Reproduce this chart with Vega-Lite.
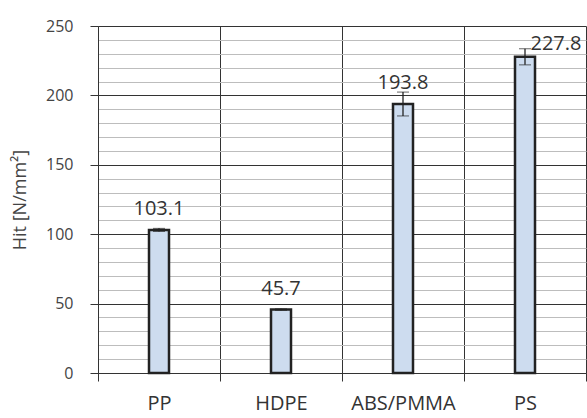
{
  "$schema": "https://vega.github.io/schema/vega-lite/v6.json",
  "width": 488,
  "height": 347,
  "autosize": {"type": "none"},
  "padding": {"left": 98, "top": 26, "right": 1, "bottom": 45},
  "config": {"font": "Open Sans", "view": {"stroke": null}},
  "data": {"values": [
    {"material": "PP", "hit": 103.1, "lo": 102.0, "hi": 104.2},
    {"material": "HDPE", "hit": 45.7, "lo": 45.2, "hi": 46.2},
    {"material": "ABS/PMMA", "hit": 193.8, "lo": 185.2, "hi": 202.4},
    {"material": "PS", "hit": 227.8, "lo": 222.0, "hi": 233.6}
  ]},
  "resolve": {"axis": {"y": "independent"}},
  "encoding": {
    "x": {
      "field": "material", "type": "nominal", "sort": null,
      "scale": {"paddingInner": 0, "paddingOuter": 0},
      "axis": {
        "title": null, "labelAngle": 0, "tickBand": "extent", "grid": true,
        "gridColor": "#333", "tickColor": "#333", "tickSize": 8, "domainColor": "#333",
        "labelFontSize": 20, "labelColor": "#333", "labelPadding": 12
      }
    }
  },
  "layer": [
    {
      "mark": {"type": "bar", "size": 20, "fill": "#cddcef", "stroke": "#222", "strokeWidth": 2.5},
      "encoding": {
        "y": {
          "field": "hit", "type": "quantitative", "title": "Hit [N/mm²]",
          "scale": {"domain": [0, 250], "nice": false},
          "axis": {
            "values": [0,10,20,30,40,50,60,70,80,90,100,110,120,130,140,150,160,170,180,190,200,210,220,230,240,250],
            "labelExpr": "datum.value % 50 === 0 ? datum.label : ''",
            "grid": true,
            "gridColor": {"condition": {"test": "datum.value % 50 === 0", "value": "#333"}, "value": "#bdbdbd"},
            "tickColor": {"condition": {"test": "datum.value % 50 === 0", "value": "#333"}, "value": "transparent"},
            "tickSize": 8, "domainColor": "#333",
            "labelFontSize": 16, "labelColor": "#444", "labelPadding": 17,
            "titleFontSize": 18, "titleFontWeight": "normal", "titleColor": "#444", "titlePadding": 16
          }
        }
      }
    },
    {
      "mark": {"type": "errorbar", "color": "#222", "ticks": {"size": 12, "strokeWidth": 1.3}, "rule": {"strokeWidth": 1.3}},
      "encoding": {
        "y": {"field": "lo", "type": "quantitative", "axis": null},
        "y2": {"field": "hi"}
      }
    },
    {
      "transform": [{"filter": "datum.material !== 'PS'"}],
      "mark": {"type": "text", "baseline": "alphabetic", "dy": -15, "fontSize": 20, "color": "#333"},
      "encoding": {
        "y": {"field": "hit", "type": "quantitative", "axis": null},
        "text": {"field": "hit", "type": "quantitative", "format": ".1f"}
      }
    },
    {
      "transform": [{"filter": "datum.material === 'PS'"}],
      "mark": {"type": "text", "baseline": "alphabetic", "dy": -7, "dx": 31, "fontSize": 20, "color": "#333"},
      "encoding": {
        "y": {"field": "hit", "type": "quantitative", "axis": null},
        "text": {"field": "hit", "type": "quantitative", "format": ".1f"}
      }
    }
  ]
}
